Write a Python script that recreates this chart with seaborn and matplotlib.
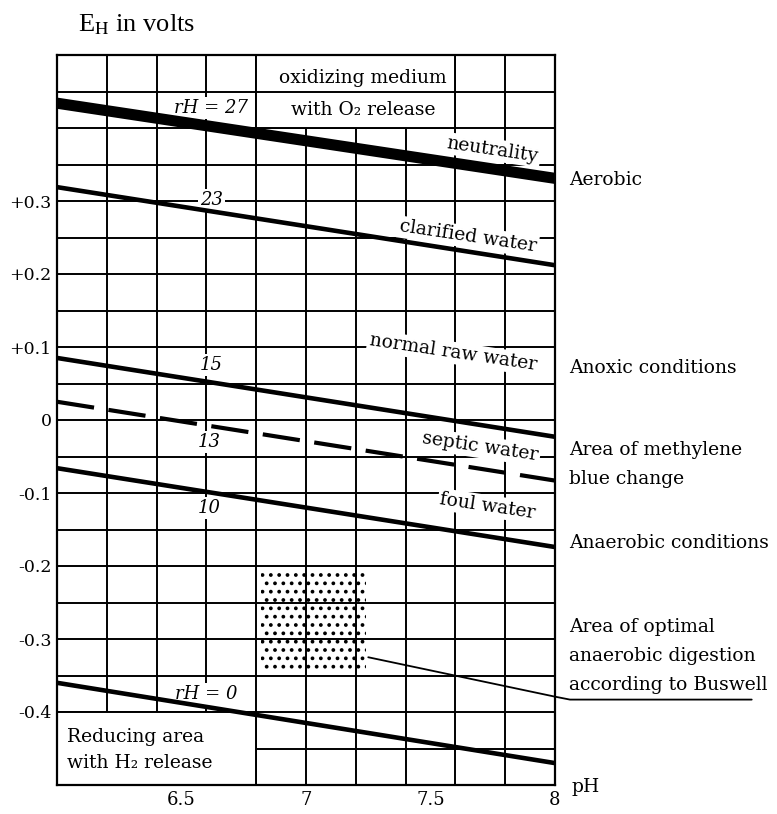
import numpy as np
import matplotlib
matplotlib.use("Agg")
import matplotlib.pyplot as plt
import seaborn as sns
import pandas as pd
from matplotlib.patches import Rectangle

# rH lines, Eh (volts) read at pH 6 and pH 8
rh_levels = [27, 23, 15, 13, 10, 0]
ph_ends = [6.0, 8.0]
eh_ph6 = [0.434, 0.319, 0.085, 0.025, -0.066, -0.360]
eh_ph8 = [0.331, 0.212, -0.023, -0.083, -0.174, -0.470]
line_widths = [8.0, 3.3, 3.3, 3.0, 3.3, 3.3]
line_dashed = [False, False, False, True, False, False]

# rH number labels (pH, Eh)
rh_labels = ["rH = 27", "23", "15", "13", "10", "rH = 0"]
rh_label_ph = [6.62, 6.62, 6.62, 6.61, 6.61, 6.60]
rh_label_eh = [0.427, 0.301, 0.075, -0.030, -0.121, -0.376]

# water quality labels along the lines
water_labels = ["neutrality", "clarified water", "normal raw water", "septic water", "foul water"]
water_ph = [7.75, 7.65, 7.59, 7.70, 7.73]
water_eh = [0.370, 0.251, 0.092, -0.037, -0.118]

# Buswell optimal digestion area
buswell_ph = [6.82, 7.24]
buswell_eh = [-0.347, -0.21]

# right-hand condition labels (figure pixel rows)
side_labels = ["Aerobic", "Anoxic conditions", "Area of methylene", "blue change",
               "Anaerobic conditions", "Area of optimal", "anaerobic digestion",
               "according to Buswell"]
side_rows = [180, 368, 450, 479, 543, 627, 656, 685]

xtick_vals = [6.5, 7.0, 7.5, 8.0]
xtick_text = ["6.5", "7", "7.5", "8"]
ytick_vals = [-0.4, -0.3, -0.2, -0.1, 0.0, 0.1, 0.2, 0.3]
ytick_text = ["-0.4", "-0.3", "-0.2", "-0.1", "0", "+0.1", "+0.2", "+0.3"]

sns.set_style("white")
plt.rcParams["font.family"] = ["DejaVu Serif"]
plt.rcParams["text.color"] = "black"
plt.rcParams["xtick.color"] = "black"
plt.rcParams["ytick.color"] = "black"
plt.rcParams["hatch.linewidth"] = 1.5

W, H = 777, 814
fig = plt.figure(figsize=(W / 100, H / 100), dpi=100)
ax = fig.add_axes([57 / W, 29 / H, 498 / W, 730 / H])
ax.set_xlim(6.0, 8.0)
ax.set_ylim(-0.5, 0.5)

# grid
for gx in np.arange(6.0, 8.001, 0.2):
    ax.axvline(gx, color="black", lw=1.4, zorder=1)
for gy in np.arange(-0.5, 0.501, 0.05):
    ax.axhline(gy, color="black", lw=1.4, zorder=1)

# boxes that blank out the grid
ax.add_patch(Rectangle((6.8, 0.4), 0.8, 0.1, facecolor="white", edgecolor="black", lw=1.4, zorder=2))
ax.hlines(0.45, 6.8, 7.6, color="black", lw=1.4, zorder=2.1)
ax.add_patch(Rectangle((6.0, -0.5), 0.8, 0.1, facecolor="white", edgecolor="black", lw=1.4, zorder=2))

# dotted Buswell area
ax.fill_between(buswell_ph, buswell_eh[0], buswell_eh[1], facecolor="none",
                edgecolor="black", hatch="..", lw=0, zorder=2.5)

# rH lines
df = pd.DataFrame({
    "rH": np.repeat(rh_levels, 2),
    "pH": ph_ends * len(rh_levels),
    "Eh": np.ravel(np.column_stack([eh_ph6, eh_ph8])),
})
for rh, lw, dashed in zip(rh_levels, line_widths, line_dashed):
    sub = df[df["rH"] == rh]
    sns.lineplot(data=sub, x="pH", y="Eh", ax=ax, color="black", lw=lw, zorder=3)
    line = ax.lines[-1]
    line.set_solid_capstyle("butt")
    if dashed:
        line.set_dashes((9, 3.5))
        line.set_dash_capstyle("butt")

bbox = dict(facecolor="white", edgecolor="none", pad=1.5)
for txt, x, y in zip(rh_labels, rh_label_ph, rh_label_eh):
    ax.text(x, y, txt, fontsize=13, style="italic", ha="center", va="center",
            bbox=bbox, zorder=2.8)

for txt, x, y in zip(water_labels, water_ph, water_eh):
    ax.text(x, y, txt, fontsize=13.5, ha="center", va="center", rotation=-8.5,
            rotation_mode="anchor", bbox=bbox, zorder=2.8)

ax.text(7.23, 0.4685, "oxidizing medium", fontsize=13.5, ha="center", va="center", zorder=4)
ax.text(7.23, 0.4246, "with O₂ release", fontsize=13.5, ha="center", va="center", zorder=4)
ax.text(6.04, -0.434, "Reducing area", fontsize=13.5, ha="left", va="center", zorder=4)
ax.text(6.04, -0.470, "with H₂ release", fontsize=13.5, ha="left", va="center", zorder=4)

# leader line to the Buswell note
ax.plot([7.25, 8.0, 8.06, 8.79], [-0.325, -0.379, -0.383, -0.383], color="black",
        lw=1.3, clip_on=False, zorder=3)

for txt, row in zip(side_labels, side_rows):
    fig.text(569 / W, 1 - row / H, txt, fontsize=13.5, ha="left", va="center")

ax.set_xticks(xtick_vals)
ax.set_xticklabels(xtick_text, fontsize=13)
ax.set_yticks(ytick_vals)
ax.set_yticklabels(ytick_text, fontsize=12.5)
ax.tick_params(length=0, pad=4)
ax.set_xlabel("")
ax.set_ylabel("")
for s in ax.spines.values():
    s.set_linewidth(1.6)
    s.set_color("black")
    s.set_zorder(5)

fig.text(572 / W, 1 - 787 / H, "pH", fontsize=13.5, ha="left", va="center")
fig.text(78 / W, 1 - 25 / H, r"E$_{\mathrm{H}}$ in volts", fontsize=19,
         family="Liberation Serif", math_fontfamily="stix", ha="left", va="center")

fig.savefig("out.png", dpi=100)
